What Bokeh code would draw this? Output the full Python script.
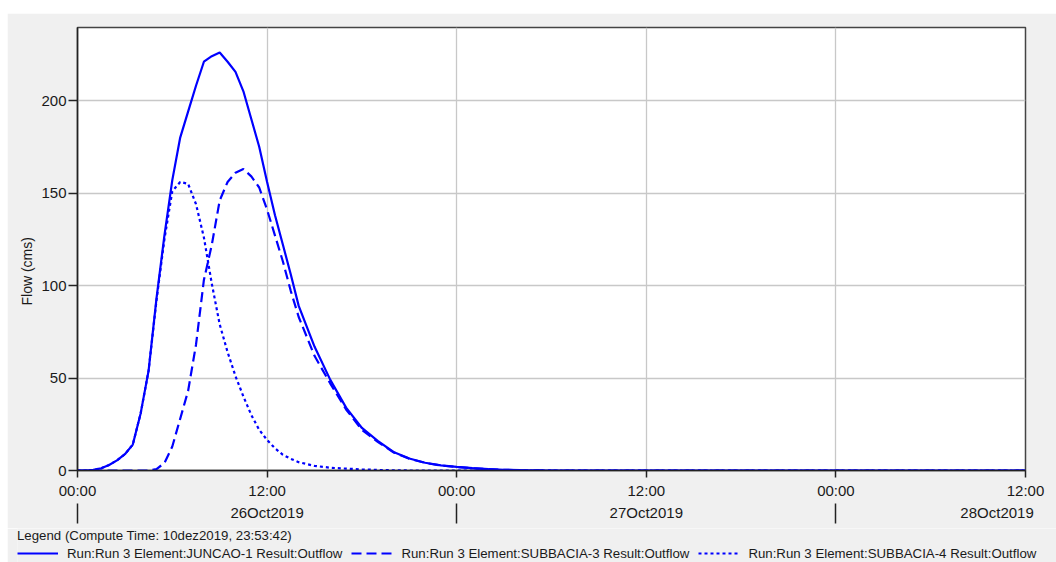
from bokeh.plotting import figure
from bokeh.models import Range1d, FixedTicker, LinearAxis, Legend, LegendItem, Title
from bokeh.embed import file_html
from bokeh.resources import INLINE

# ---- data (hours since 26Oct2019 00:00, flow in cms) ----
hours = [0, 0.5, 1, 1.5, 2, 2.5, 3, 3.5, 4, 4.5, 5, 5.5, 6, 6.5, 7, 7.5, 8, 8.5, 9, 9.5,
         10, 10.5, 11, 11.5, 12, 12.5, 13, 13.5,
         14, 15, 16, 17, 18, 19, 20, 21, 22, 23, 24, 25, 26, 27, 28, 29, 30,
         60]
juncao1 = [0, 0, 0.3, 1.2, 3, 5.5, 8.8, 14, 31, 54, 93, 127, 157, 180, 194, 208, 221, 224, 226, 221,
           215.5, 205, 190, 175, 156, 138, 122, 106,
           89, 67, 49, 34, 23, 16, 10, 6.5, 4.2, 2.8, 2.0, 1.3, 0.7, 0.4, 0.2, 0.1, 0,
           0]
subbacia3 = [0, 0, 0, 0, 0, 0, 0, 0, 0, 0, 0.8, 4, 13, 28, 43, 68, 103, 122, 146, 156,
             161, 163, 159, 153, 141, 127, 113, 97,
             83, 62, 47, 33, 22, 15.5, 9.8, 6.4, 4.1, 2.7, 1.9, 1.2, 0.7, 0.4, 0.2, 0.1, 0,
             0]
subbacia4 = [0, 0, 0.3, 1.2, 3, 5.5, 8.8, 14, 31, 54, 92, 125, 151, 156, 155, 144, 126, 101, 79, 64,
             51, 40, 30, 22, 16.5, 12, 8.5, 6.3,
             4.5, 2.5, 1.5, 1.0, 0.6, 0.3, 0.1, 0, 0, 0, 0, 0, 0, 0, 0, 0, 0,
             0]

time_ticks = [0, 12, 24, 36, 48, 60]
time_tick_labels = ["00:00", "12:00", "00:00", "12:00", "00:00", "12:00"]
day_label_pos = [12, 36, 58.2]          # where the date captions sit (last one pulled inside)
day_labels = ["26Oct2019", "27Oct2019", "28Oct2019"]
day_bounds = [0, 24, 48]
flow_ticks = [0, 50, 100, 150, 200]
y_max = 239.5

series_names = ["Run:Run 3 Element:JUNCAO-1 Result:Outflow",
                "Run:Run 3 Element:SUBBACIA-3 Result:Outflow",
                "Run:Run 3 Element:SUBBACIA-4 Result:Outflow"]
legend_title = "Legend (Compute Time: 10dez2019, 23:53:42)"
y_title = "Flow (cms)"

BLUE = "#0000FF"
BG = "#F0F0F0"
FONT = "Liberation Sans"
TXT = "#1a1a1a"
AX = "#222222"

p = figure(width=1049, height=515, x_range=Range1d(0, hours[-1]), y_range=Range1d(0, y_max),
           output_backend="svg", toolbar_location=None,
           min_border_left=70, min_border_right=31, min_border_top=14, min_border_bottom=58,
           background_fill_color="white", border_fill_color=BG,
           outline_line_color="#444444", outline_line_width=1.5)
p.margin = (13, 0, 0, 7)

p.line(hours, juncao1, line_color=BLUE, line_width=2.2)
p.line(hours, subbacia3, line_color=BLUE, line_width=2.2, line_dash="10 5")
p.line(hours, subbacia4, line_color=BLUE, line_width=2.2, line_dash="3 3")

xa = p.xaxis[0]
xa.ticker = FixedTicker(ticks=time_ticks, minor_ticks=[])
xa.major_label_overrides = {t: l for t, l in zip(time_ticks, time_tick_labels)}
xa.major_tick_out = 7
xa.major_tick_in = 0
xa.minor_tick_out = 0
xa.minor_tick_in = 0
xa.major_label_standoff = 4
xa.axis_line_color = AX
xa.axis_line_width = 1.5
xa.major_tick_line_color = AX
xa.major_tick_line_width = 1.5
xa.major_label_text_font = FONT
xa.major_label_text_font_size = "15px"
xa.major_label_text_color = TXT

# date captions
xa2 = LinearAxis(ticker=FixedTicker(ticks=day_label_pos, minor_ticks=[]),
                 major_label_overrides={t: l for t, l in zip(day_label_pos, day_labels)},
                 axis_line_color=None, major_tick_line_color=None, minor_tick_line_color=None,
                 major_tick_out=0, major_tick_in=0, minor_tick_out=0, minor_tick_in=0,
                 major_label_standoff=2,
                 major_label_text_font=FONT, major_label_text_font_size="15px",
                 major_label_text_color=TXT)
p.add_layout(xa2, "below")

# day separators (ticks pointing up from below the captions, no labels)
xa3 = LinearAxis(ticker=FixedTicker(ticks=day_bounds, minor_ticks=[]),
                 major_label_overrides={t: "" for t in day_bounds},
                 axis_line_color=None, major_tick_line_color=AX, major_tick_line_width=1.5,
                 major_tick_out=0, major_tick_in=20, minor_tick_out=0, minor_tick_in=0,
                 minor_tick_line_color=None,
                 major_label_standoff=0, major_label_text_font_size="1px",
                 major_label_text_color=None)
p.add_layout(xa3, "below")

ya = p.yaxis[0]
ya.ticker = FixedTicker(ticks=flow_ticks, minor_ticks=[])
ya.major_tick_out = 9
ya.major_tick_in = 0
ya.minor_tick_out = 0
ya.minor_tick_in = 0
ya.major_label_standoff = 2
ya.axis_line_color = AX
ya.axis_line_width = 1.5
ya.major_tick_line_color = AX
ya.major_tick_line_width = 1.5
ya.major_label_text_font = FONT
ya.major_label_text_font_size = "15px"
ya.major_label_text_color = TXT

# y title as a side title so it can be shifted along the axis like the original
p.add_layout(Title(text=y_title, align="left", offset=165, standoff=7,
                   text_font=FONT, text_font_size="14px", text_font_style="normal",
                   text_color=TXT), "left")

p.xgrid[0].ticker = FixedTicker(ticks=time_ticks)
p.ygrid[0].ticker = FixedTicker(ticks=flow_ticks)
p.xgrid[0].grid_line_color = "#C8C8C8"
p.ygrid[0].grid_line_color = "#C8C8C8"
p.xgrid[0].grid_line_width = 1.3
p.ygrid[0].grid_line_width = 1.3

# ---- legend strip (separate root so it is not frame-aligned with the chart) ----
leg = figure(width=1049, height=34, x_range=Range1d(0, 1), y_range=Range1d(0, 1),
             output_backend="svg", toolbar_location=None,
             x_axis_type=None, y_axis_type=None,
             min_border=0, min_border_left=10,
             background_fill_color=BG, border_fill_color=BG, outline_line_color=None)
leg.margin = (0, 0, 0, 7)
# sample renderers kept outside the visible range; only their legend swatches show
r1 = leg.line([0, 1], [-5, -5], line_color=BLUE, line_width=2.2)
r2 = leg.line([0, 1], [-5, -5], line_color=BLUE, line_width=2.2, line_dash="10 5")
r3 = leg.line([0, 1], [-5, -5], line_color=BLUE, line_width=2.2, line_dash="3 3")
legend = Legend(items=[LegendItem(label=series_names[0], renderers=[r1]),
                       LegendItem(label=series_names[1], renderers=[r2]),
                       LegendItem(label=series_names[2], renderers=[r3])],
                orientation="horizontal", location="top_left",
                title=legend_title, title_text_font=FONT, title_text_font_size="13.25px",
                title_text_font_style="normal", title_text_color=TXT, title_standoff=2,
                label_text_font=FONT, label_text_font_size="13.25px", label_text_color=TXT,
                glyph_width=41, glyph_height=16, label_height=16, label_standoff=9,
                spacing=9, padding=6, margin=0,
                background_fill_alpha=0, border_line_color=None)
leg.add_layout(legend, "center")

open("out.html", "w").write(file_html([p, leg], INLINE))
